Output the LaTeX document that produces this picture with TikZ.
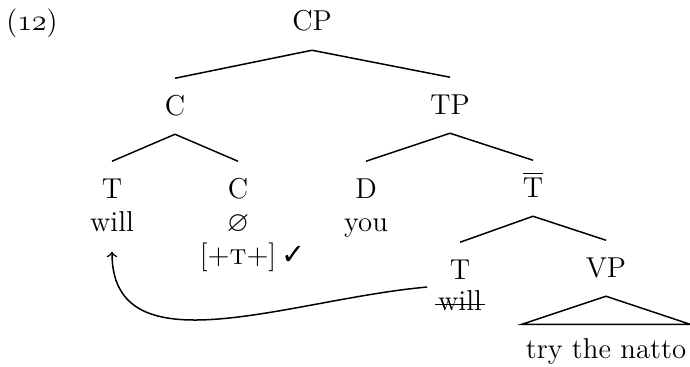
\documentclass[tikz,border=0pt]{standalone}
\usepackage{amssymb}
\usepackage{fontspec}
\usepackage{tikz}
\usetikzlibrary{calc, arrows}
\newfontfamily\checkfont{DejaVu Sans}

\begin{document}
\begin{tikzpicture}[
    x=0.4pt, y=-0.4pt,
    font=\fontsize{11.5}{14}\selectfont,
    cat/.style={inner xsep=1pt, inner ysep=7.5pt, text height=7pt, text depth=0pt, anchor=base},
    word/.style={inner sep=1pt, anchor=base},
    branch/.style={semithick},
    move/.style={->, semithick, shorten >=7pt}
]
\useasboundingbox (0,0) rectangle (690,366);

\node[word] (exnum) at (32,31) {({\usefont{OML}{cmm}{m}{it}12})};

\node[cat] (cp) at (312,31) {CP};
\node[cat] (cbar) at (175,115) {C};
\node[cat] (tp) at (450,114) {TP};
\node[cat] (tmov) at (112,198) {T};
\node[cat] (chead) at (238,198) {C};
\node[cat] (dspec) at (366,198) {D};
\node[cat] (tbar) at (533,197) {$\overline{\mbox{T}}$};
\node[cat] (thead) at (460,279) {T};
\node[cat] (vp) at (606,277) {VP};

\node[word] (will) at (112,231) {will};
\node[word] (null) at (238,231) {$\varnothing$};
\node[word] (feat) at (238,264) {[+\textsc{t}+]\rlap{\,\checkfont ✓}};
\node[word] (you) at (366,231) {you};
\node[word] (willcopy) at (460,310) {will};
\node[word] (natto) at (606,358) {try the natto};

\draw[branch] (cp.south) -- (cbar.north);
\draw[branch] (cp.south) -- (tp.north);
\draw[branch] (cbar.south) -- (tmov.north);
\draw[branch] (cbar.south) -- (chead.north);
\draw[branch] (tp.south) -- (dspec.north);
\draw[branch] (tp.south) -- (tbar.north);
\draw[branch] (tbar.south) -- (thead.north);
\draw[branch] (tbar.south) -- (vp.north);
\draw[branch] (vp.south) -- ($(vp.south)+(-84,28)$) -- ($(vp.south)+(84,28)$) -- cycle;
% strike-through of the lower copy
\draw[thin] ($(willcopy.base west)+(0,-6)$) -- ($(willcopy.base east)+(0,-6)$);

\draw[move] ($(willcopy.north west)+(-8,0)$) to[out=185, in=-90, looseness=1.1] (will.south);

\end{tikzpicture}
\end{document}
